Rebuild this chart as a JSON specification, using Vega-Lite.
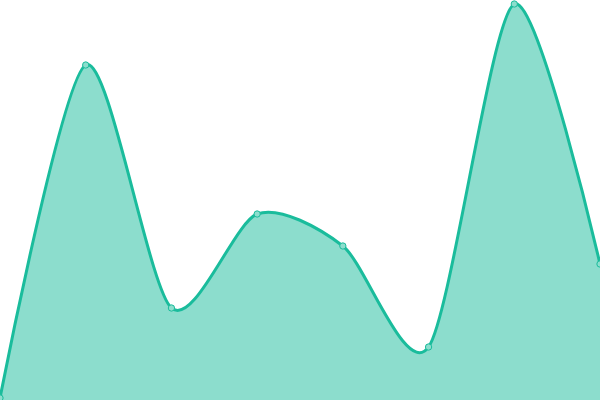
{
  "$schema": "https://vega.github.io/schema/vega-lite/v6.json",
  "autosize": {"type": "none"},
  "width": 600,
  "height": 400,
  "padding": 0,
  "config": {"view": {"stroke": null}},
  "data": {
    "values": [
      {"i": 0, "v": 2},
      {"i": 1, "v": 335},
      {"i": 2, "v": 92},
      {"i": 3, "v": 186},
      {"i": 4, "v": 154},
      {"i": 5, "v": 53},
      {"i": 6, "v": 396},
      {"i": 7, "v": 136}
    ]
  },
  "encoding": {
    "x": {"field": "i", "type": "quantitative", "axis": null, "scale": {"domain": [0, 7], "nice": false, "zero": false}},
    "y": {"field": "v", "type": "quantitative", "axis": null, "scale": {"domain": [0, 400], "nice": false}}
  },
  "layer": [
    {"mark": {"type": "area", "interpolate": "cardinal", "tension": 0.2, "color": "#1abc9c", "opacity": 0.5}},
    {"mark": {"type": "line", "interpolate": "cardinal", "tension": 0.2, "color": "#1abc9c", "strokeWidth": 3}},
    {"mark": {"type": "point", "filled": true, "fill": "#8cdecd", "stroke": "#1abc9c", "strokeWidth": 1, "size": 40, "opacity": 1}}
  ]
}
